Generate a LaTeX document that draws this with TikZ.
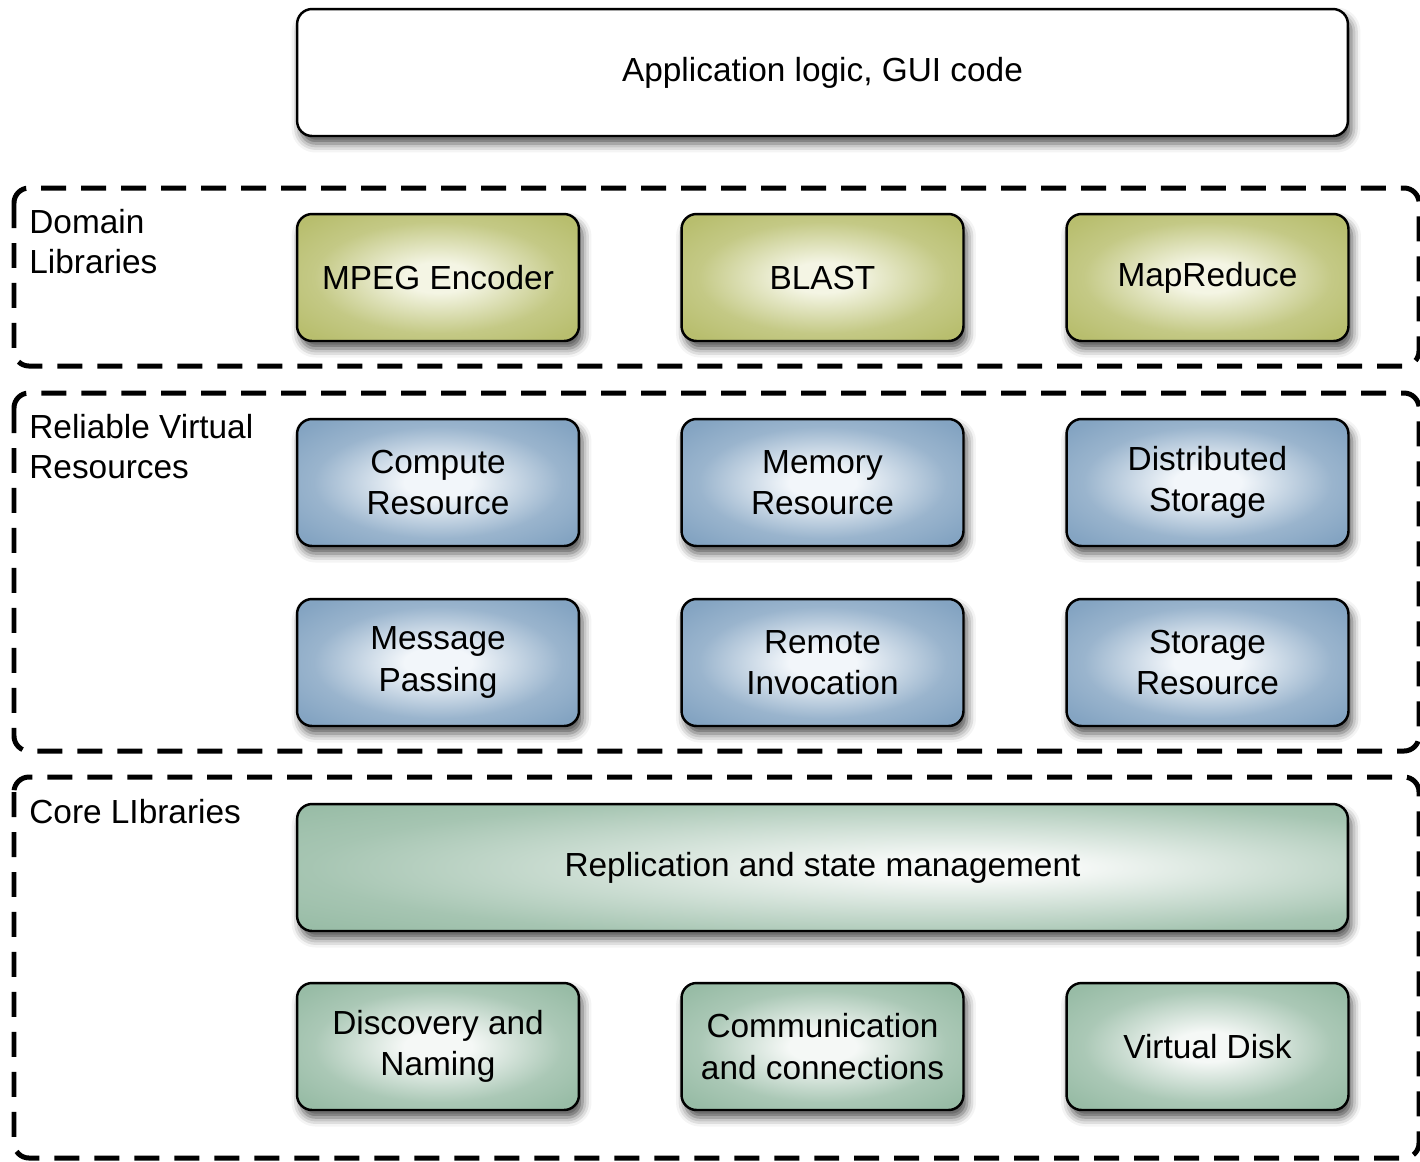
\documentclass[tikz,border=0pt]{standalone}
\usepackage{fontspec}
\setmainfont{Liberation Sans}
\usepackage[rgb]{xcolor}
\usepackage{tikz}
\usetikzlibrary{shapes,calc,shadows.blur}

\definecolor{OliveEdge}{RGB}{184,190,110}
\definecolor{OliveCore}{RGB}{244,245,228}
\definecolor{BlueEdge}{RGB}{132,164,194}
\definecolor{BlueCore}{RGB}{242,246,250}
\definecolor{GreenEdge}{RGB}{152,188,166}
\definecolor{GreenCore}{RGB}{245,248,246}

\pgfdeclareradialshading{oliveglow}{\pgfpoint{0bp}{0bp}}{color(0bp)=(OliveCore); color(6bp)=(OliveCore); color(22bp)=(OliveEdge!80!OliveCore); color(32bp)=(OliveEdge); color(50bp)=(OliveEdge)}
\pgfdeclareradialshading{blueglow}{\pgfpoint{0bp}{0bp}}{color(0bp)=(BlueCore); color(6bp)=(BlueCore); color(22bp)=(BlueEdge!80!BlueCore); color(32bp)=(BlueEdge); color(50bp)=(BlueEdge)}
\pgfdeclareradialshading{greenglow}{\pgfpoint{0bp}{0bp}}{color(0bp)=(GreenCore); color(6bp)=(GreenCore); color(22bp)=(GreenEdge!80!GreenCore); color(32bp)=(GreenEdge); color(50bp)=(GreenEdge)}
\pgfdeclareradialshading{greenband}{\pgfpoint{8bp}{0bp}}{color(0bp)=(GreenCore); color(5bp)=(GreenCore); color(28bp)=(GreenEdge!85!GreenCore); color(36bp)=(GreenEdge); color(50bp)=(GreenEdge)}

\begin{document}
\begin{tikzpicture}[x = 0.02cm, y = -0.02cm]
\tikzset{
	layer box/.style = {draw, line width = 1.4pt, rounded corners = 0.3cm,
		minimum width = 5.64cm, minimum height = 2.54cm, align = center,
		font = \fontsize{19}{23.4}\selectfont,
		blur shadow = {shadow xshift = 0.07cm, shadow yshift = -0.15cm, shadow blur radius = 0.18cm, shadow opacity = 70}},
	wide box/.style = {layer box, minimum width = 21.02cm},
	plain box/.style = {wide box, fill = white},
	olive box/.style = {layer box, shading = oliveglow},
	blue box/.style = {layer box, shading = blueglow},
	green box/.style = {layer box, shading = greenglow},
	band box/.style = {wide box, shading = greenband},
	group frame/.style = {line width = 0.1cm, dash pattern = on 0.5cm off 0.3cm, rounded corners = 0.3cm},
	group label/.style = {anchor = north west, inner sep = 0, align = left, font = \fontsize{19}{22.7}\selectfont},
}

\useasboundingbox (0,0) rectangle (1420,1161);

\draw [group frame] (14,188) rectangle (1419,366);
\draw [group frame] (14,393) rectangle (1419,751);
\draw [group frame] (14,777) rectangle (1419,1158);

\node (domlbl) [group label] at (29,209) {Domain\\Libraries};
\node (rvrlbl) [group label] at (29,414) {Reliable Virtual\\Resources};
\node (corelbl) [group label] at (29,799) {Core LIbraries};

\node (app) [plain box] at (822.5,72.5) {Application logic, GUI code};

\node (mpeg) [olive box] at (438,277.5) {MPEG Encoder};
\node (blast) [olive box] at (822.5,277.5) {BLAST};
\node (mapred) [olive box] at (1207.5,277.5) {MapReduce};

\node (compute) [blue box] at (438,482.5) {Compute\\Resource};
\node (memory) [blue box] at (822.5,482.5) {Memory\\Resource};
\node (diststore) [blue box] at (1207.5,482.5) {Distributed\\Storage};

\node (msgpass) [blue box] at (438,662.5) {Message\\Passing};
\node (remote) [blue box] at (822.5,662.5) {Remote\\Invocation};
\node (storeres) [blue box] at (1207.5,662.5) {Storage\\Resource};

\node (replic) [band box] at (822.5,867.5) {Replication and state management};

\node (discover) [green box] at (438,1046.5) {Discovery and\\Naming};
\node (comm) [green box] at (822.5,1046.5) {Communication\\and connections};
\node (vdisk) [green box] at (1207.5,1046.5) {Virtual Disk};

\end{tikzpicture}
\end{document}
